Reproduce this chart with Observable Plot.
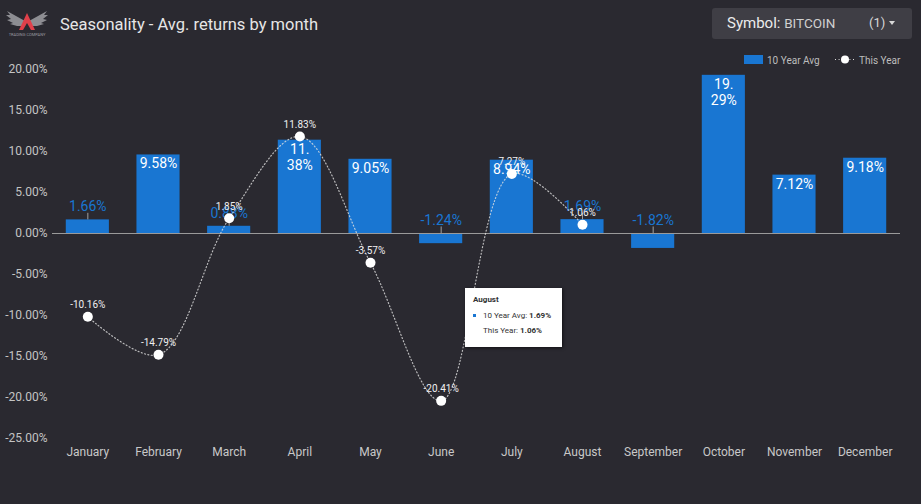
<!DOCTYPE html>
<html>
<head>
<meta charset="utf-8">
<script src="https://cdn.jsdelivr.net/npm/d3@7"></script>
<script src="https://cdn.jsdelivr.net/npm/@observablehq/plot@0.6"></script>
<style>
  html, body { margin: 0; padding: 0; background: #2a2930; }
  #wrap { position: relative; width: 921px; height: 504px; overflow: hidden; font-family: Roboto, "Noto Sans", sans-serif; }
  #chart { position: absolute; left: 0; top: 0; }
  .ov { position: absolute; }
  #title { left: 60px; top: 15px; font-size: 16.5px; color: #e6e6e6; white-space: nowrap; }
  #symbol { left: 712px; top: 8px; width: 200px; height: 31px; background: #3f3e45; border-radius: 3px; }
  #symbol .lab { position: absolute; left: 15px; top: 6px; font-size: 15px; color: #ececec; white-space: nowrap; }
  #symbol .lab span { font-size: 13.5px; color: #d0d0d0; }
  #symbol .cnt { position: absolute; left: 157px; top: 7px; font-size: 13px; color: #d8d8d8; }
  #symbol .car { position: absolute; left: 177px; top: 13px; width: 0; height: 0; border-left: 3.5px solid transparent; border-right: 3.5px solid transparent; border-top: 4px solid #d8d8d8; }
  #legend { left: 744px; top: 53px; font-size: 10px; color: #bdbdbd; white-space: nowrap; }
  #tip { left: 465px; top: 288px; width: 97px; height: 59px; background: #fff; box-shadow: 1px 1px 3px rgba(0,0,0,0.6); font-size: 8px; color: #333; }
  #tip div { position: absolute; white-space: nowrap; }
</style>
</head>
<body>
<div id="wrap">
  <div id="chart"></div>
  <svg class="ov" style="left:4px;top:9px" width="46" height="28" viewBox="0 0 46 28">
    <g fill="#8d8d92">
      <path d="M21 12 L3 2 L6 6 L2 6 L7 10 L3 11 L9 14 L6 15 L13 17 L20 17 Z"/>
      <path d="M25 12 L43 2 L40 6 L44 6 L39 10 L43 11 L37 14 L40 15 L33 17 L26 17 Z"/>
    </g>
    <path d="M23 4 L15 21 L19 21 L23 14 L27 21 L31 21 Z" fill="#e0404a"/>
    <text x="23" y="26.5" font-size="4" fill="#9a9aa0" text-anchor="middle" font-family="Roboto">TRADING COMPANY</text>
  </svg>
  <div id="title" class="ov">Seasonality - Avg. returns by month</div>
  <div id="symbol" class="ov">
    <div class="lab">Symbol: <span>BITCOIN</span></div>
    <div class="cnt">(1)</div>
    <div class="car"></div>
  </div>
  <div id="legend" class="ov"></div>
  <div id="tip" class="ov"></div>
</div>
<script>
const months = ["January","February","March","April","May","June","July","August","September","October","November","December"];
const tenYearAvg = [1.66, 9.58, 0.88, 11.38, 9.05, -1.24, 8.94, 1.69, -1.82, 19.29, 7.12, 9.18];
const thisYear = [-10.16, -14.79, 1.85, 11.83, -3.57, -20.41, 7.27, 1.06];
const yTicks = [-25, -20, -15, -10, -5, 0, 5, 10, 15, 20];
const seriesNames = ["10 Year Avg", "This Year"];
const tipMonth = "August";

const BLUE = "#1976d2";
const pct = v => v.toFixed(2) + "%";

const bars = months.map((m, i) => ({month: m, v: tenYearAvg[i]}));
const line = thisYear.map((v, i) => ({month: months[i], v}));
const inside = bars.filter(d => Math.abs(d.v) >= 2);
const outside = bars.filter(d => Math.abs(d.v) < 2);
const barLabel = v => { const s = pct(v); return v >= 10 ? s.slice(0, 3) + "\n" + s.slice(3) : s; };

const chart = Plot.plot({
  width: 921,
  height: 504,
  marginLeft: 52,
  marginRight: 21,
  marginTop: 69,
  marginBottom: 66,
  style: {background: "transparent", fontFamily: "Roboto, sans-serif", color: "#c4c4c4"},
  x: {domain: months, paddingInner: 0.39, paddingOuter: 0.195, round: false, label: null},
  y: {domain: [-25, 20], label: null},
  marks: [
    Plot.axisY({ticks: yTicks, tickSize: 0, tickPadding: 5, tickFormat: pct, fontSize: 12, fill: "#c4c4c4"}),
    Plot.axisX({tickSize: 0, tickPadding: 9, fontSize: 12, fill: "#c8c8c8"}),
    Plot.barY(bars, {x: "month", y: "v", fill: BLUE}),
    Plot.ruleY([0], {stroke: "#9a9a9a", strokeWidth: 1}),
    Plot.ruleX(outside, {x: "month", y1: d => Math.max(d.v, 0), y2: d => Math.max(d.v, 0) + 0.8, stroke: "#a0a0a0", strokeWidth: 1}),
    Plot.text(outside, {x: "month", y: d => Math.max(d.v, 0), text: d => pct(d.v), dy: -13, fill: BLUE, fontSize: 14}),
    Plot.text(inside, {x: "month", y: "v", text: d => barLabel(d.v), lineAnchor: "top", dy: 2, lineHeight: 1.15, fill: "#ffffff", fontSize: 14}),
    Plot.line(line, {x: "month", y: "v", curve: "catmull-rom", stroke: "#e0e0e0", strokeWidth: 1.2, strokeDasharray: "1 2.4", strokeOpacity: 0.8}),
    Plot.dot(line, {x: "month", y: "v", r: 5, fill: "#ffffff"}),
    Plot.text(line, {x: "month", y: "v", text: d => pct(d.v), dy: -12, fill: "#f0f0f0", fontSize: 10})
  ]
});
document.getElementById("chart").appendChild(chart);

// legend
document.getElementById("legend").innerHTML =
  `<svg width="170" height="14" style="overflow:visible">
     <rect x="0" y="2" width="19" height="9" fill="${BLUE}"/>
     <text x="23" y="10.5" font-size="10" fill="#bdbdbd" font-family="Roboto">${seriesNames[0]}</text>
     <line x1="91" y1="6.5" x2="110" y2="6.5" stroke="#ddd" stroke-dasharray="1 2.6"/>
     <circle cx="101" cy="6.5" r="4" fill="#fff"/>
     <text x="115" y="10.5" font-size="10" fill="#bdbdbd" font-family="Roboto">${seriesNames[1]}</text>
   </svg>`;

// tooltip
const ti = months.indexOf(tipMonth);
document.getElementById("tip").innerHTML =
  `<div style="left:8px;top:7px;font-weight:bold">${tipMonth}</div>
   <div style="left:8px;top:26px;width:3px;height:3px;background:${BLUE}"></div>
   <div style="left:18px;top:23px">${seriesNames[0]}: <b>${pct(tenYearAvg[ti])}</b></div>
   <div style="left:18px;top:38px">${seriesNames[1]}: <b>${pct(thisYear[ti])}</b></div>`;
</script>
</body>
</html>
